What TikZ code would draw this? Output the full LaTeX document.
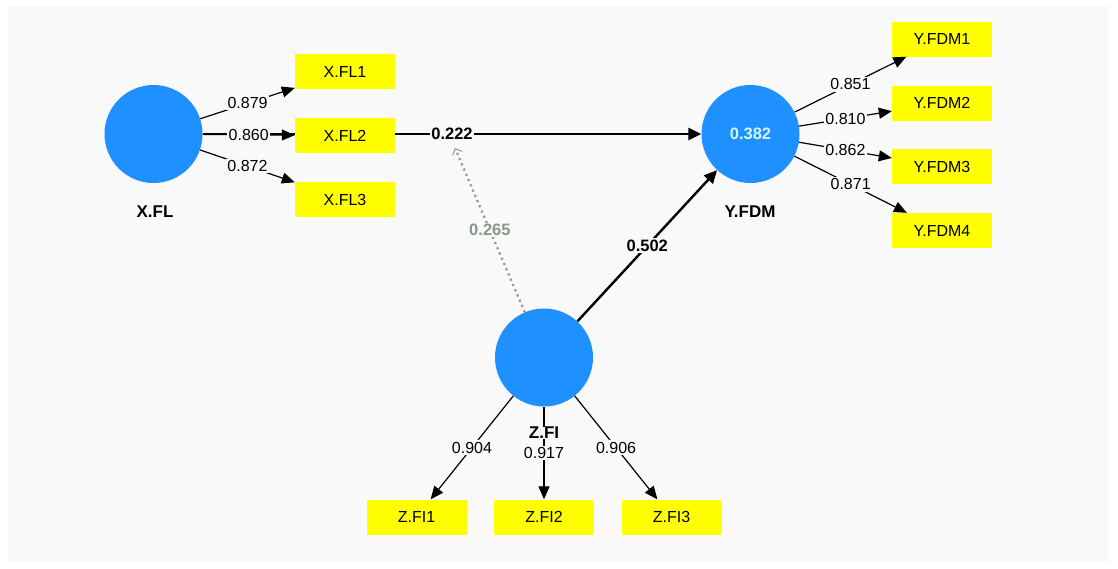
\documentclass[tikz,border=0pt]{standalone}
\usepackage{fontspec}
\setmainfont{Liberation Sans}
\usetikzlibrary{arrows.meta}
\definecolor{bgc}{RGB}{249,249,249}
\definecolor{lvblue}{RGB}{30,144,255}
\definecolor{mvyellow}{RGB}{255,255,0}
\definecolor{modgray}{RGB}{150,150,150}
\definecolor{modtext}{RGB}{138,152,138}
\definecolor{rtext}{RGB}{215,245,255}
\pgfdeclarelayer{back}
\pgfdeclarelayer{under}
\pgfsetlayers{back,under,main}
\begin{document}
\begin{tikzpicture}[x=1pt,y=-1pt,
  latent/.style={circle,fill=lvblue,minimum size=98pt,inner sep=0pt},
  indicator/.style={fill=mvyellow,minimum width=100pt,minimum height=35pt,inner sep=0pt,font=\fontsize{16}{19}\selectfont},
  lvname/.style={font=\fontsize{17}{20}\bfseries\selectfont,inner sep=1pt},
  loading/.style={draw=black,line width=1.2pt,-{Triangle[length=13pt,width=11pt]}},
  struct/.style={draw=black,line width=2.4pt,-{Triangle[length=13pt,width=12pt]}},
  coef/.style={fill=bgc,inner sep=1.5pt,font=\fontsize{16}{19}\selectfont},
  pathcoef/.style={fill=bgc,inner sep=1.5pt,font=\fontsize{16.5}{19}\bfseries\selectfont},
  modline/.style={draw=modgray,line width=2.2pt,dash pattern=on 2.2pt off 3.5pt,-{Straight Barb[length=5pt,width=10pt,line width=1pt]}},
]
\begin{pgfonlayer}{back}
\fill[white] (0,0) rectangle (1118,568);
\fill[bgc] (8,6) rectangle (1108,562);
\end{pgfonlayer}
\useasboundingbox (0,0) rectangle (1118,568);

% latent variables
\node[latent] (XFL) at (153.5,134) {};
\node[latent] (YFDM) at (750.5,134) {\fontsize{16.5}{19}\bfseries\selectfont\color{rtext}0.382};
\node[latent] (ZFI) at (544,357.5) {};
\node[lvname] (XFLn) at (155,212) {X.FL};
\node[lvname] (YFDMn) at (750,212) {Y.FDM};

% indicators
\node[indicator] (XFL1) at (345,71.5) {X.FL1};
\node[indicator] (XFL2) at (345,135.5) {X.FL2};
\node[indicator] (XFL3) at (345,199.5) {X.FL3};
\node[indicator] (YFDM1) at (942,39) {Y.FDM1};
\node[indicator] (YFDM2) at (942,103) {Y.FDM2};
\node[indicator] (YFDM3) at (942,166.5) {Y.FDM3};
\node[indicator] (YFDM4) at (942,230.5) {Y.FDM4};
\node[indicator] (ZFI1) at (416.5,517) {Z.FI1};
\node[indicator] (ZFI2) at (544,517) {Z.FI2};
\node[indicator] (ZFI3) at (671.5,517) {Z.FI3};

% structural path behind the indicator box
\begin{pgfonlayer}{under}
\draw[struct] (XFL) -- node[pathcoef] (c222) {0.222} (YFDM);
\end{pgfonlayer}
\draw[struct] (ZFI) -- node[pathcoef] (c502) {0.502} (YFDM);

% moderating effect
\coordinate (modtip) at (455,148);
\draw[modline] (ZFI) -- node[pathcoef,text=modtext] (c265) {0.265} (modtip);

% outer loadings
\draw[loading] (XFL) -- node[coef] {0.879} (XFL1);
\draw[loading] (XFL) -- node[coef] {0.860} (XFL2);
\draw[loading] (XFL) -- node[coef] {0.872} (XFL3);
\draw[loading] (YFDM) -- node[coef] {0.851} (YFDM1);
\draw[loading] (YFDM) -- node[coef] {0.810} (YFDM2);
\draw[loading] (YFDM) -- node[coef] {0.862} (YFDM3);
\draw[loading] (YFDM) -- node[coef] {0.871} (YFDM4);
\draw[loading] (ZFI) -- node[coef] {0.904} (ZFI1);
\draw[loading] (ZFI) -- node[coef] {0.917} (ZFI2);
\draw[loading] (ZFI) -- node[coef] {0.906} (ZFI3);

\node[lvname,fill=bgc,inner sep=0pt] (ZFIn) at (544,433) {Z.FI};
\end{tikzpicture}
\end{document}
